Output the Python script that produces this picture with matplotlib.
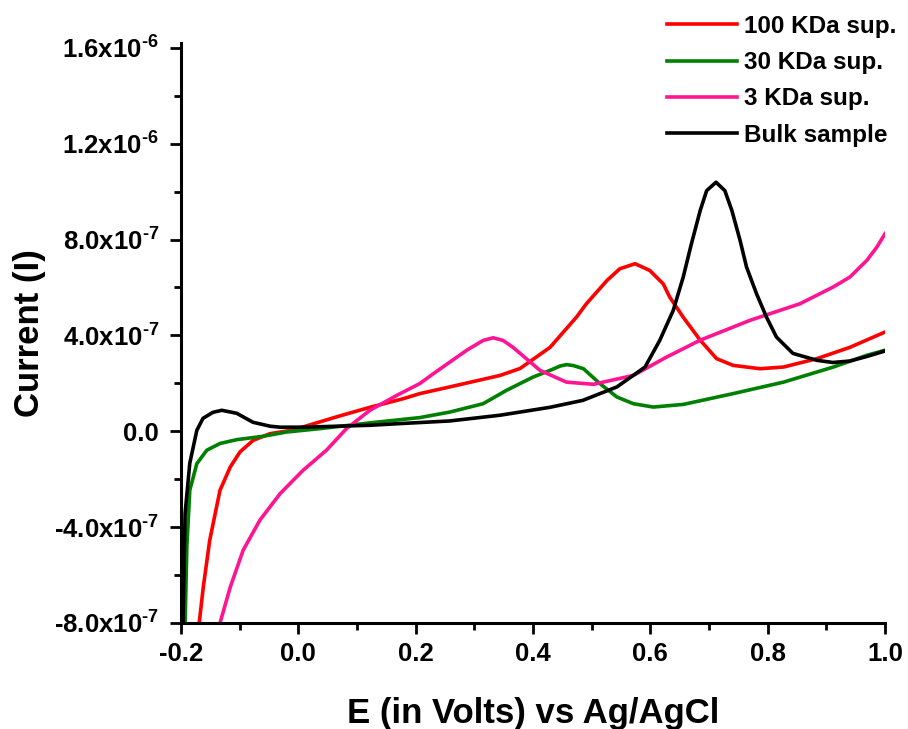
import matplotlib
matplotlib.use('Agg')
import matplotlib.pyplot as plt
from matplotlib.ticker import FixedLocator, FixedFormatter, MultipleLocator

plt.rcParams['font.family'] = 'Liberation Sans'
plt.rcParams['font.weight'] = 'bold'
plt.rcParams['mathtext.fontset'] = 'custom'
plt.rcParams['mathtext.rm'] = 'Liberation Sans:bold'
plt.rcParams['mathtext.it'] = 'Liberation Sans:bold'
plt.rcParams['mathtext.bf'] = 'Liberation Sans:bold'
plt.rcParams['mathtext.default'] = 'rm'

# data (V, A)
v_100 = [-0.172, -0.169, -0.162, -0.151, -0.1335, -0.116, -0.0994, -0.0768, -0.0483, -0.0198,
         0.008, 0.065, 0.122, 0.179, 0.207, 0.258, 0.344, 0.378, 0.429, 0.474, 0.491, 0.526, 0.548,
         0.574, 0.599, 0.622, 0.633, 0.656, 0.685, 0.713, 0.741, 0.787, 0.827, 0.884, 0.940, 1.0]
i_100 = [-9.0e-7, -8.0e-7, -6.5e-7, -4.54e-7, -2.46e-7, -1.49e-7, -0.86e-7, -0.375e-7, -0.1e-7, 0.01e-7,
         0.18e-7, 0.6e-7, 1.0e-7, 1.36e-7, 1.57e-7, 1.85e-7, 2.33e-7, 2.62e-7, 3.5e-7, 4.76e-7, 5.32e-7, 6.29e-7, 6.78e-7,
         6.99e-7, 6.71e-7, 6.15e-7, 5.6e-7, 4.76e-7, 3.8e-7, 3.03e-7, 2.75e-7, 2.61e-7, 2.68e-7, 3.03e-7, 3.5e-7, 4.14e-7]

v_30 = [-0.194, -0.193, -0.190, -0.185, -0.173, -0.156, -0.1335, -0.105, -0.06, -0.0198, 0.037,
        0.122, 0.207, 0.258, 0.315, 0.355, 0.4, 0.429, 0.446, 0.457, 0.469, 0.486, 0.514, 0.543,
        0.571, 0.605, 0.656, 0.741, 0.827, 0.912, 0.969, 1.0]
i_30 = [-9.0e-7, -8.0e-7, -4.8e-7, -2.46e-7, -1.35e-7, -0.79e-7, -0.51e-7, -0.35e-7, -0.21e-7, -0.03e-7, 0.11e-7,
        0.35e-7, 0.57e-7, 0.8e-7, 1.15e-7, 1.71e-7, 2.26e-7, 2.54e-7, 2.72e-7, 2.78e-7, 2.74e-7, 2.61e-7, 1.99e-7, 1.43e-7,
        1.15e-7, 1.01e-7, 1.12e-7, 1.57e-7, 2.05e-7, 2.68e-7, 3.17e-7, 3.38e-7]

v_3 = [-0.138, -0.1335, -0.116, -0.094, -0.0653, -0.031, 0.008, 0.048, 0.082, 0.122, 0.168, 0.207,
       0.23, 0.287, 0.315, 0.332, 0.349, 0.366, 0.412, 0.457, 0.503, 0.571, 0.628, 0.685, 0.770,
       0.855, 0.911, 0.940, 0.969, 0.986, 1.0]
i_3 = [-9.0e-7, -8.0e-7, -6.5e-7, -4.96e-7, -3.7e-7, -2.6e-7, -1.63e-7, -0.79e-7, 0.11e-7, 0.875e-7, 1.5e-7, 1.99e-7,
       2.4e-7, 3.38e-7, 3.79e-7, 3.9e-7, 3.79e-7, 3.5e-7, 2.54e-7, 2.05e-7, 1.96e-7, 2.33e-7, 3.1e-7, 3.8e-7, 4.63e-7,
       5.32e-7, 6.01e-7, 6.43e-7, 7.13e-7, 7.68e-7, 8.24e-7]

v_bulk = [-0.198, -0.1966, -0.193, -0.185, -0.173, -0.1625, -0.1455, -0.1306, -0.105, -0.0773, -0.048,
          -0.031, 0.008, 0.066, 0.122, 0.173, 0.258, 0.344, 0.429, 0.485, 0.543, 0.591, 0.616, 0.639,
          0.656, 0.670, 0.685, 0.696, 0.712, 0.727, 0.739, 0.753, 0.764, 0.781, 0.798, 0.815, 0.843,
          0.884, 0.911, 0.940, 0.969, 1.0]
i_bulk = [-9.0e-7, -8.0e-7, -3.42e-7, -1.33e-7, 0.04e-7, 0.54e-7, 0.79e-7, 0.875e-7, 0.75e-7, 0.375e-7, 0.21e-7,
          0.17e-7, 0.17e-7, 0.21e-7, 0.25e-7, 0.32e-7, 0.43e-7, 0.67e-7, 1.0e-7, 1.29e-7, 1.85e-7, 2.68e-7, 3.79e-7, 5.04e-7,
          6.43e-7, 7.82e-7, 9.21e-7, 1.004e-6, 1.039e-6, 1.004e-6, 9.21e-7, 7.96e-7, 6.85e-7, 5.74e-7, 4.76e-7, 3.93e-7, 3.25e-7,
          2.96e-7, 2.87e-7, 2.93e-7, 3.12e-7, 3.35e-7]

y_ticks = [-8e-7, -4e-7, 0.0, 4e-7, 8e-7, 1.2e-6, 1.6e-6]
y_labels = [r'-8.0x10$^{\text{-}7}$', r'-4.0x10$^{\text{-}7}$', '0.0', r'4.0x10$^{\text{-}7}$',
            r'8.0x10$^{\text{-}7}$', r'1.2x10$^{\text{-}6}$', r'1.6x10$^{\text{-}6}$']

fig = plt.figure(figsize=(9.08, 7.29), dpi=100)
ax = fig.add_axes([181/908, 1 - 623/729, (885 - 181)/908, (623 - 43)/729])

lw = 2.6
ax.plot(v_100, i_100, color='#FF0000', lw=lw, label='100 KDa sup.')
ax.plot(v_30, i_30, color='#008000', lw=lw, label='30 KDa sup.')
ax.plot(v_3, i_3, color='#FF1493', lw=lw, label='3 KDa sup.')
ax.plot(v_bulk, i_bulk, color='black', lw=lw, label='Bulk sample')

ax.set_xlim(-0.2, 1.0)
ax.set_ylim(-8e-7, 1.62e-6)
ax.spines['top'].set_visible(False)
ax.spines['right'].set_visible(False)
for s in ['left', 'bottom']:
    ax.spines[s].set_linewidth(2.2)

ax.xaxis.set_major_locator(MultipleLocator(0.2))
ax.xaxis.set_minor_locator(MultipleLocator(0.1))
ax.xaxis.set_major_formatter(plt.FuncFormatter(lambda v, p: f'{v:.1f}'))
ax.yaxis.set_major_locator(FixedLocator(y_ticks))
ax.yaxis.set_major_formatter(FixedFormatter(y_labels))
ax.yaxis.set_minor_locator(MultipleLocator(2e-7))
ax.tick_params(which='major', direction='out', length=8, width=2, labelsize=18.5, pad=6)
ax.tick_params(which='minor', direction='out', length=5, width=2)
ax.tick_params(axis='y', which='major', pad=8)

ax.set_xlabel('E (in Volts) vs Ag/AgCl', fontsize=25, fontweight='bold', labelpad=22)
ax.set_ylabel('Current (I)', fontsize=25, fontweight='bold')
ax.yaxis.set_label_coords((46 - 181) / 704, 0.5)

fig.legend(loc='upper left', bbox_to_anchor=(657/908, 1 - 5/729), frameon=False,
           handlelength=2.9, handletextpad=0.3, labelspacing=0.55,
           borderaxespad=0, prop={'weight': 'bold', 'size': 17.5})

fig.savefig('out.png', dpi=100, facecolor='white')
